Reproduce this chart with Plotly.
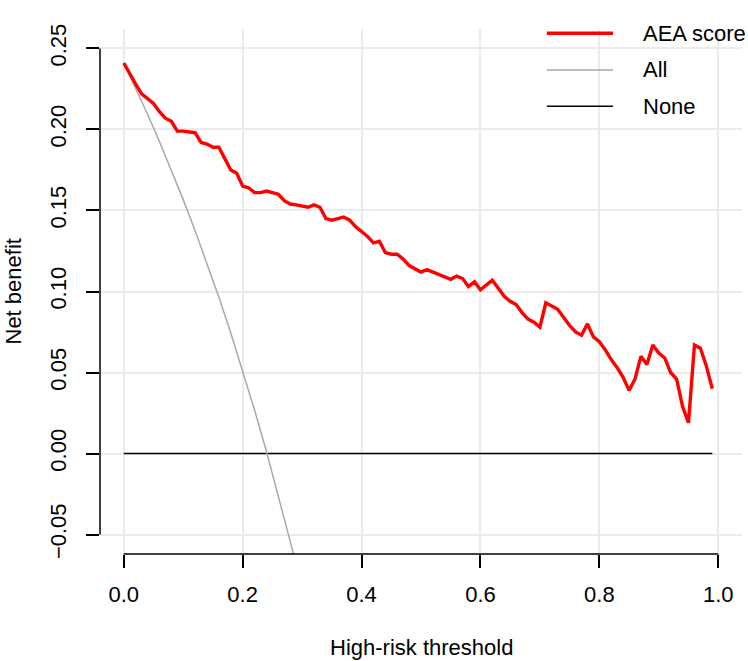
import plotly.graph_objects as go

# ---- data ----
thresholds = [round(i * 0.01, 2) for i in range(100)]
aea_score = [0.241, 0.234, 0.228, 0.222, 0.219, 0.216, 0.211, 0.207, 0.205, 0.199,
             0.199, 0.1985, 0.198, 0.192, 0.191, 0.189, 0.189, 0.182, 0.175, 0.173,
             0.165, 0.164, 0.161, 0.161, 0.162, 0.161, 0.160, 0.156, 0.154, 0.1535,
             0.153, 0.152, 0.1535, 0.152, 0.145, 0.144, 0.145, 0.146, 0.144, 0.140,
             0.137, 0.134, 0.130, 0.131, 0.124, 0.123, 0.123, 0.120, 0.116, 0.114,
             0.112, 0.1135, 0.112, 0.1105, 0.109, 0.1075, 0.1095, 0.108, 0.103, 0.106,
             0.101, 0.104, 0.107, 0.102, 0.097, 0.094, 0.092, 0.087, 0.083, 0.081,
             0.078, 0.093, 0.091, 0.089, 0.084, 0.079, 0.075, 0.073, 0.080, 0.072,
             0.069, 0.064, 0.058, 0.053, 0.047, 0.039, 0.046, 0.060, 0.055, 0.067,
             0.062, 0.059, 0.050, 0.046, 0.029, 0.019, 0.067, 0.065, 0.054, 0.040]

all_thresholds = [0.00, 0.02, 0.04, 0.06, 0.08, 0.10, 0.12, 0.14, 0.16, 0.18,
                  0.20, 0.22, 0.24, 0.26, 0.28, 0.30]
all_values = [0.241, 0.2255, 0.2094, 0.1926, 0.175, 0.1567, 0.1375, 0.1174, 0.0964,
              0.0744, 0.0512, 0.0269, 0.0013, -0.0257, -0.0542, -0.0843]

none_thresholds = [0.00, 0.99]
none_values = [0.0, 0.0]

x_ticks = [0, 0.2, 0.4, 0.6, 0.8, 1.0]
x_tick_labels = ["0.0", "0.2", "0.4", "0.6", "0.8", "1.0"]
y_ticks = [-0.05, 0.0, 0.05, 0.10, 0.15, 0.20, 0.25]
y_tick_labels = ["\u22120.05", "0.00", "0.05", "0.10", "0.15", "0.20", "0.25"]

series_names = ["AEA score", "All", "None"]
series_colors = ["#FF0000", "#A9A9A9", "#000000"]
series_widths = [3.4, 1.5, 1.6]

FONT = "Liberation Sans, Arial, sans-serif"
FS = 22

fig = go.Figure()
fig.add_trace(go.Scatter(x=none_thresholds, y=none_values, mode="lines",
                         line=dict(color=series_colors[2], width=series_widths[2]),
                         name=series_names[2], showlegend=False))
fig.add_trace(go.Scatter(x=all_thresholds, y=all_values, mode="lines",
                         line=dict(color=series_colors[1], width=series_widths[1]),
                         name=series_names[1], showlegend=False))
fig.add_trace(go.Scatter(x=thresholds, y=aea_score, mode="lines",
                         line=dict(color=series_colors[0], width=series_widths[0]),
                         name=series_names[0], showlegend=False))

axis_common = dict(showline=False, zeroline=False, showgrid=True,
                   gridcolor="#EBEBEB", gridwidth=1.5,
                   ticks="outside", ticklen=13, tickwidth=1.5, tickcolor="black",
                   tickfont=dict(family=FONT, size=FS, color="black"))

fig.update_xaxes(range=[-0.04, 1.04], tickvals=x_ticks, ticktext=x_tick_labels,
                 ticklabelstandoff=8, **axis_common)
fig.update_yaxes(range=[-0.062, 0.262], tickvals=y_ticks, ticktext=y_tick_labels,
                 tickangle=-90, ticklabelstandoff=11, **axis_common)

shapes = [
    dict(type="line", xref="x", yref="paper", x0=0, x1=1, y0=0, y1=0,
         line=dict(color="black", width=1.5), layer="above"),
    dict(type="line", xref="paper", yref="y", x0=0, x1=0, y0=-0.05, y1=0.25,
         line=dict(color="black", width=1.5), layer="above"),
]

# manual R-style legend (paper coordinates)
legend_rows = [0.992, 0.922, 0.853]
annotations = []
for name, color, width, yy in zip(series_names, series_colors, series_widths, legend_rows):
    shapes.append(dict(type="line", xref="paper", yref="paper", x0=0.696, x1=0.799,
                       y0=yy, y1=yy, line=dict(color=color, width=width)))
    annotations.append(dict(xref="paper", yref="paper", x=0.843, y=yy, text=name,
                            showarrow=False, xanchor="left", yanchor="middle",
                            font=dict(family=FONT, size=FS, color="black")))

annotations.append(dict(xref="paper", yref="paper", x=0.5, y=0, yshift=-93,
                        text="High-risk threshold", showarrow=False,
                        xanchor="center", yanchor="middle",
                        font=dict(family=FONT, size=FS, color="black")))
annotations.append(dict(xref="paper", yref="paper", x=0, xshift=-87, y=0.5,
                        text="Net benefit", showarrow=False, textangle=-90,
                        xanchor="center", yanchor="middle",
                        font=dict(family=FONT, size=FS, color="black")))

fig.update_layout(width=748, height=661,
                  margin=dict(l=100, r=6, t=29, b=107, autoexpand=False),
                  plot_bgcolor="white", paper_bgcolor="white",
                  shapes=shapes, annotations=annotations, showlegend=False)

fig.write_html("out.html")
